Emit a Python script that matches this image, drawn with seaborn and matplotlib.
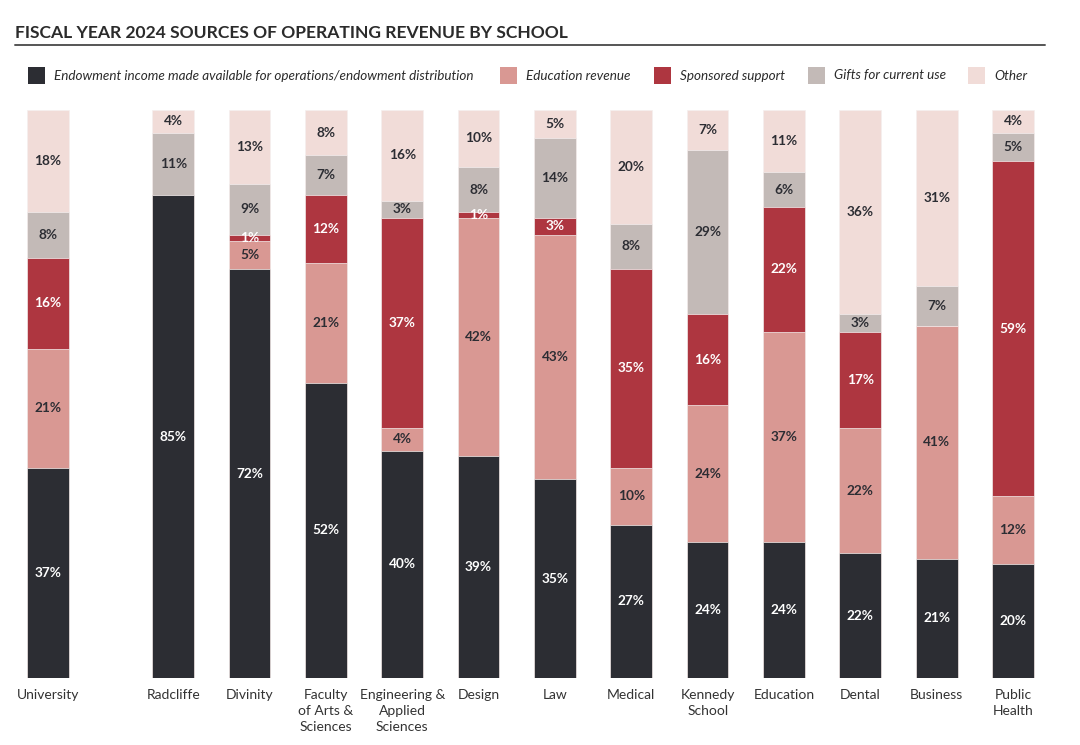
import numpy as np
import pandas as pd
import matplotlib
matplotlib.use("Agg")
import matplotlib.pyplot as plt
from matplotlib.patches import Rectangle
from matplotlib.lines import Line2D
import seaborn as sns

# ---------------- data ----------------
schools = ["University", "Radcliffe", "Divinity", "Faculty\nof Arts &\nSciences",
           "Engineering &\nApplied\nSciences", "Design", "Law", "Medical",
           "Kennedy\nSchool", "Education", "Dental", "Business", "Public\nHealth"]
endowment = [37, 85, 72, 52, 40, 39, 35, 27, 24, 24, 22, 21, 20]
education = [21, 0, 5, 21, 4, 42, 43, 10, 24, 37, 22, 41, 12]
sponsored = [16, 0, 1, 12, 37, 1, 3, 35, 16, 22, 17, 0, 59]
gifts = [8, 11, 9, 7, 3, 8, 14, 8, 29, 6, 3, 7, 5]
other = [18, 4, 13, 8, 16, 10, 5, 20, 7, 11, 36, 31, 4]
series_names = ["Endowment income made available for operations/endowment distribution",
                "Education revenue", "Sponsored support", "Gifts for current use", "Other"]
title = "FISCAL YEAR 2024 SOURCES OF OPERATING REVENUE BY SCHOOL"

# ---------------- style ----------------
colors = ["#2c2d33", "#d99893", "#ae3640", "#c3bab7", "#f1dcd8"]
label_colors = ["white", "#2c2d33", "white", "#2c2d33", "#2c2d33"]

sns.set_theme(style="white")
plt.rcParams['font.family'] = ['Lato', 'DejaVu Sans']

W, H = 1080, 745
fig = plt.figure(figsize=(W / 100, H / 100), dpi=100)
bar_top, bar_bot = 110, 678
ax = fig.add_axes([0, (H - bar_bot) / H, 1, (bar_bot - bar_top) / H])

n = len(schools)
pos = np.arange(n, dtype=float)
pos[1:] += 0.641  # extra gap after "University"

layers = [endowment, education, sponsored, gifts, other]
cum = np.cumsum(np.array(layers, dtype=float), axis=0)

for k in reversed(range(len(layers))):
    df = pd.DataFrame({"x": pos, "y": cum[k]})
    sns.barplot(data=df, x="x", y="y", native_scale=True, color=colors[k],
                width=0.546, errorbar=None, saturation=1, linewidth=0.5,
                edgecolor="#f5efee", ax=ax)

# segment labels
for i in range(n):
    bottom = 0.0
    for k, layer in enumerate(layers):
        v = layer[i]
        if v > 0:
            ax.text(pos[i], bottom + v / 2, f"{v}%", ha="center", va="center",
                    color=label_colors[k], fontsize=9.8, fontweight="bold")
        bottom += v

px0, spacing = 47.9, 76.35
ax.set_xlim(-px0 / spacing, (W - px0) / spacing)
ax.set_ylim(0, 100)
ax.set_xticks(pos)
ax.set_xticklabels(schools, fontsize=10, color="#333333", linespacing=1.38)
ax.tick_params(axis="x", length=0, pad=8)
ax.set_yticks([])
ax.set_xlabel("")
ax.set_ylabel("")
for s in ax.spines.values():
    s.set_visible(False)

# title and rule
fig.text(15 / W, 1 - 33 / H, title, ha="left", va="center", fontsize=12.6,
         fontweight="bold", color="#2b2b2b")
fig.add_artist(Line2D([15 / W, 1045 / W], [1 - 45 / H, 1 - 45 / H],
                      color="#555555", lw=1.4))

# legend
leg_sq_x = [28, 500, 654, 808, 968]
for k, name in enumerate(series_names):
    fig.add_artist(Rectangle((leg_sq_x[k] / W, 1 - 84 / H), 17 / W, 17 / H,
                             facecolor=colors[k], edgecolor="none",
                             transform=fig.transFigure))
    fig.text((leg_sq_x[k] + 26) / W, 1 - 75.5 / H, name, ha="left", va="center",
             fontsize=9.7, style="italic", color="#2b2b2b")

fig.savefig("out.png", dpi=100)
